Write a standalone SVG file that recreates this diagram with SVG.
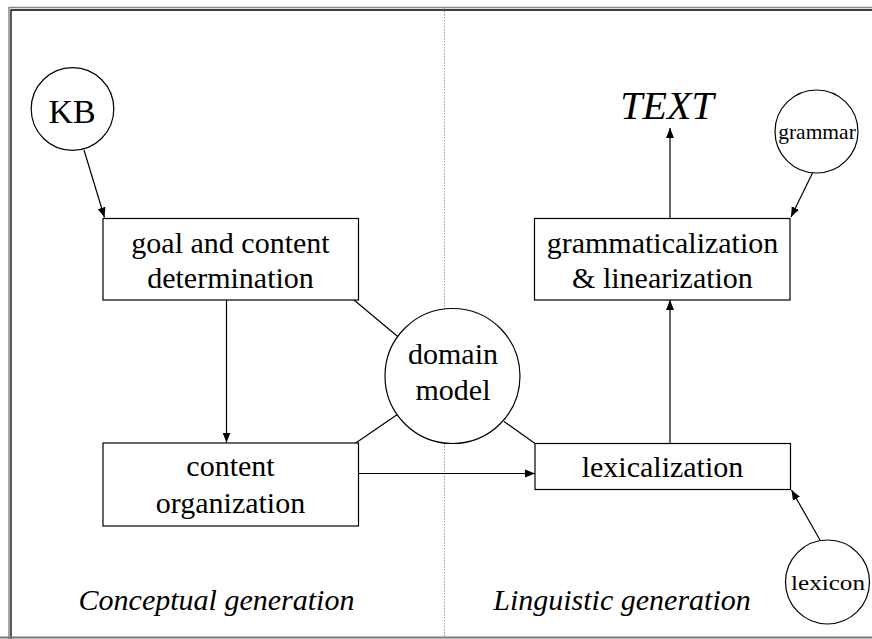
<svg xmlns="http://www.w3.org/2000/svg" width="872" height="639" viewBox="0 0 872 639">
  <style>
    .box { fill: #fff; stroke: #000; stroke-width: 1.2; }
    .circ { fill: #fff; stroke: #000; stroke-width: 1.2; }
    .lbl { font-family: "Liberation Serif", "Times New Roman", serif; font-size: 30px; fill: #000; text-anchor: middle; }
    .it { font-style: italic; }
    .edge { stroke: #000; stroke-width: 1.2; fill: none; }
    .arrow { stroke: #000; stroke-width: 1.2; fill: none; marker-end: url(#head); }
  </style>
  <defs>
    <marker id="head" viewBox="0 0 10 10" refX="10" refY="5" markerWidth="10" markerHeight="10" markerUnits="userSpaceOnUse" orient="auto">
      <path d="M0,1 L10,5 L0,9 Z" fill="#000"/>
    </marker>
  </defs>
  <rect width="872" height="639" fill="#fff"/>

  <!-- frame -->
  <g id="frame">
    <path d="M9,639 L9,7.5 L872,7.5" fill="none" stroke="#888" stroke-width="1.5"/>
    <path d="M11,639 L11,10 L872,10" fill="none" stroke="#000" stroke-width="1.3"/>
    <line x1="0" y1="637.5" x2="872" y2="637.5" stroke="#777" stroke-width="2"/>
    <line x1="444.5" y1="8" x2="444.5" y2="637" stroke="#999" stroke-width="1" stroke-dasharray="1.5,1.5"/>
  </g>

  <!-- connectors -->
  <g id="connectors">
    <line class="arrow" x1="84" y1="150" x2="104.5" y2="217.5"/>
    <line class="arrow" x1="226.5" y1="300" x2="226.5" y2="442.5"/>
    <line class="arrow" x1="354" y1="473.5" x2="535" y2="473.5"/>
    <line class="arrow" x1="670" y1="443" x2="670" y2="300"/>
    <line class="arrow" x1="670" y1="218" x2="670" y2="128"/>
    <line class="arrow" x1="812.5" y1="173" x2="791" y2="217"/>
    <line class="arrow" x1="820" y1="540" x2="791.5" y2="490"/>
    <line class="edge" x1="354" y1="300" x2="399.5" y2="338"/>
    <line class="edge" x1="355" y1="443.5" x2="399.5" y2="413"/>
    <line class="edge" x1="504" y1="421.5" x2="535" y2="443.5"/>
  </g>

  <g id="kb">
    <circle class="circ" cx="72.5" cy="109" r="41.3"/>
    <text class="lbl" x="72" y="122.5" style="font-size:34px">KB</text>
  </g>

  <g id="goal">
    <rect class="box" x="103" y="218.5" width="255.5" height="81.5"/>
    <text class="lbl" x="230.5" y="252.5">goal and content</text>
    <text class="lbl" x="230.5" y="288">determination</text>
  </g>

  <g id="content">
    <rect class="box" x="103" y="443" width="255.5" height="83"/>
    <text class="lbl" x="230.5" y="475.5">content</text>
    <text class="lbl" x="230.5" y="512.5">organization</text>
  </g>

  <g id="domain">
    <circle class="circ" cx="452.5" cy="376" r="67.5"/>
    <text class="lbl" x="453" y="363.5">domain</text>
    <text class="lbl" x="453" y="399.5">model</text>
  </g>

  <g id="lexicalization">
    <rect class="box" x="535" y="443.5" width="255.5" height="46"/>
    <text class="lbl" x="662.5" y="476.5">lexicalization</text>
  </g>

  <g id="grammaticalization">
    <rect class="box" x="534.5" y="218.5" width="255.5" height="81.5"/>
    <text class="lbl" x="662.5" y="252.5">grammaticalization</text>
    <text class="lbl" x="662.5" y="287.5">&amp; linearization</text>
  </g>

  <g id="text-output">
    <text class="lbl it" x="667" y="118.5" style="font-size:40px">TEXT</text>
  </g>

  <g id="grammar">
    <circle class="circ" cx="816.5" cy="131.5" r="41.5"/>
    <text class="lbl" x="817" y="139" style="font-size:21.5px">grammar</text>
  </g>

  <g id="lexicon">
    <circle class="circ" cx="827.5" cy="582" r="42"/>
    <text class="lbl" x="828" y="590" style="font-size:22px" textLength="74" lengthAdjust="spacingAndGlyphs">lexicon</text>
  </g>

  <g id="section-labels">
    <text class="lbl it" x="216.5" y="610">Conceptual generation</text>
    <text class="lbl it" x="622" y="610">Linguistic generation</text>
  </g>
</svg>
